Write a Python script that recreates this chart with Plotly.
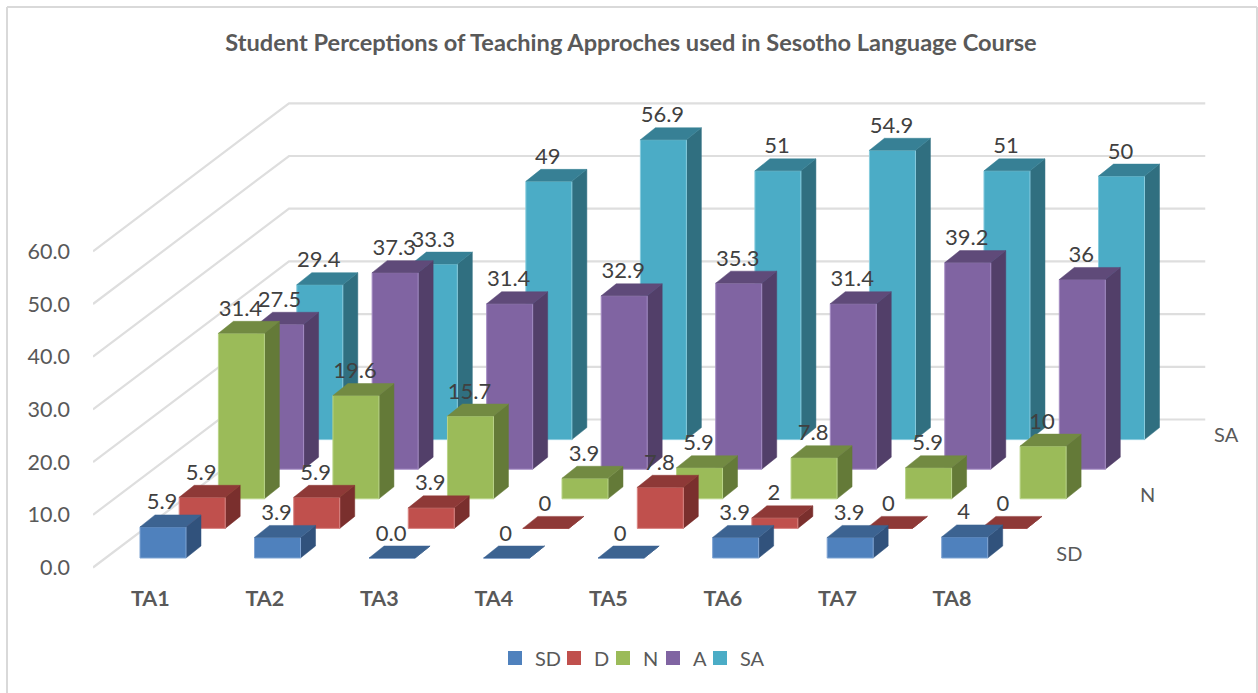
import plotly.graph_objects as go

# ---- data ----
categories = ["TA1", "TA2", "TA3", "TA4", "TA5", "TA6", "TA7", "TA8"]
series_names = ["SD", "D", "N", "A", "SA"]
sd_values = [5.9, 3.9, 0.0, 0, 0, 3.9, 3.9, 4]
d_values = [5.9, 5.9, 3.9, 0, 7.8, 2, 0, 0]
n_values = [31.4, 19.6, 15.7, 3.9, 5.9, 7.8, 5.9, 10]
a_values = [27.5, 37.3, 31.4, 32.9, 35.3, 31.4, 39.2, 36]
sa_values = [29.4, 33.3, 49, 56.9, 51, 54.9, 51, 50]
sd_labels = ["5.9", "3.9", "0.0", "0", "0", "3.9", "3.9", "4"]
d_labels = ["5.9", "5.9", "3.9", "0", "7.8", "2", "0", "0"]
n_labels = ["31.4", "19.6", "15.7", "3.9", "5.9", "7.8", "5.9", "10"]
a_labels = ["27.5", "37.3", "31.4", "32.9", "35.3", "31.4", "39.2", "36"]
sa_labels = ["29.4", "33.3", "49", "56.9", "51", "54.9", "51", "50"]
value_ticks = [0, 10, 20, 30, 40, 50, 60]
depth_labels = ["SD", "", "N", "", "SA"]
title_text = "Student Perceptions of Teaching Approches used in Sesotho Language Course"

all_values = [sd_values, d_values, n_values, a_values, sa_values]
all_labels = [sd_labels, d_labels, n_labels, a_labels, sa_labels]

# ---- styles: front, top, side, edge ----
front_colors = ["#4F81BD", "#C0504D", "#9BBB59", "#8064A2", "#4BACC6"]
top_colors = ["#3C6391", "#8E3937", "#728A42", "#5F4A79", "#378095"]
side_colors = ["#31527C", "#7A2F2D", "#647A38", "#523F69", "#306F80"]
edge_colors = ["#7FA4D3", "#D98583", "#B9D488", "#A58CC4", "#86CBDD"]
TEXT = "#595959"
LABEL = "#404040"
GRID = "#DEDEDE"
FONT = "Lato"

# ---- oblique projection constants (axis units: category / value) ----
PX_CAT = 114.53
PX_VAL = 5.27
ROW_DX = 39.2 / PX_CAT
ROW_DY = 29.6 / PX_VAL
BAR_W = 46 / PX_CAT
BAR_DX = 15 / PX_CAT
BAR_DY = 12 / PX_VAL
BAR_X0 = 47 / PX_CAT
BAR_Y0 = 9.5 / PX_VAL
N_ROWS = len(series_names)
N_CATS = len(categories)

PLOT_L, PLOT_B, PLOT_T = 93, 583, 60
X_RANGE = [0, (1258 - PLOT_L) / PX_CAT]
Y_RANGE = [-(PLOT_B - 567.5) / PX_VAL, (567.5 - PLOT_T) / PX_VAL]
LEGEND_PX = [495, 554, 603, 653, 700]

fig = go.Figure()

# walls: gridlines run along the side wall, then along the back wall
gx, gy = [], []
for v in value_ticks:
    gx += [0, N_ROWS * ROW_DX, N_ROWS * ROW_DX + N_CATS, None]
    gy += [v, v + N_ROWS * ROW_DY, v + N_ROWS * ROW_DY, None]
fig.add_trace(go.Scatter(x=gx, y=gy, mode="lines", line=dict(color=GRID, width=2.2),
                         showlegend=False, hoverinfo="skip", cliponaxis=False))

lx, ly, lt = [], [], []
# bars from the back row to the front row
for j in reversed(range(N_ROWS)):
    fx, fy, tx, ty, sx, sy = [], [], [], [], [], []
    for i, v in enumerate(all_values[j]):
        x0 = i + BAR_X0 + j * ROW_DX
        y0 = BAR_Y0 + j * ROW_DY
        x1, y1 = x0 + BAR_W, y0 + v
        fx += [x0, x1, x1, x0, x0, None]
        fy += [y0, y0, y1, y1, y0, None]
        tx += [x0, x1, x1 + BAR_DX, x0 + BAR_DX, x0, None]
        ty += [y1, y1, y1 + BAR_DY, y1 + BAR_DY, y1, None]
        sx += [x1, x1 + BAR_DX, x1 + BAR_DX, x1, x1, None]
        sy += [y0, y0 + BAR_DY, y1 + BAR_DY, y1, y0, None]
    for px, py, col, edge, w in [(sx, sy, side_colors[j], side_colors[j], 0.5),
                                 (fx, fy, front_colors[j], edge_colors[j], 1),
                                 (tx, ty, top_colors[j], top_colors[j], 0.5)]:
        fig.add_trace(go.Scatter(x=px, y=py, mode="lines", fill="toself", fillcolor=col,
                                 line=dict(color=edge, width=w), showlegend=False,
                                 hoverinfo="skip"))

# data labels
for j in range(N_ROWS):
    for i, v in enumerate(all_values[j]):
        lx.append(i + BAR_X0 + j * ROW_DX + 22 / PX_CAT)
        ly.append(BAR_Y0 + j * ROW_DY + v + BAR_DY + 11 / PX_VAL)
        lt.append(all_labels[j][i])
fig.add_trace(go.Scatter(x=lx, y=ly, text=lt, mode="text", textposition="middle center",
                         textfont=dict(family=FONT, size=22, color=LABEL),
                         showlegend=False, hoverinfo="skip", cliponaxis=False))

# depth axis labels
fig.add_trace(go.Scatter(
    x=[N_CATS + (j + 0.5) * ROW_DX + 40.5 / PX_CAT for j in range(N_ROWS)],
    y=[(j + 0.5) * ROW_DY - 3 / PX_VAL for j in range(N_ROWS)],
    text=depth_labels, mode="text", textposition="middle center",
    textfont=dict(family=FONT, size=20, color=TEXT),
    showlegend=False, hoverinfo="skip", cliponaxis=False))

pw = 1258 - PLOT_L
ph = PLOT_B - PLOT_T

# legend entries: one small legend per series, so each sits where the reference has it
legends = {}
for k, (name, col, lpx) in enumerate(zip(series_names, front_colors, LEGEND_PX)):
    key = "legend" if k == 0 else f"legend{k + 1}"
    fig.add_trace(go.Scatter(x=[None], y=[None], mode="markers", name=name, legend=key,
                             marker=dict(symbol="square", size=14, color=col)))
    legends[key] = dict(orientation="h", x=(lpx - PLOT_L) / pw, xanchor="left",
                        y=(PLOT_B - 658) / ph, yanchor="middle",
                        bgcolor="rgba(0,0,0,0)",
                        font=dict(family=FONT, size=20, color=TEXT),
                        itemclick=False, itemdoubleclick=False)

border = dict(type="line", xref="paper", yref="paper", line=dict(color="#D9D9D9", width=2))
bx0 = (7 - PLOT_L) / pw
bx1 = (1257 - PLOT_L) / pw
by_top = (PLOT_B - 7) / ph
by_bot = (PLOT_B - 693) / ph

fig.update_layout(
    width=1258, height=693,
    margin=dict(l=PLOT_L, r=0, t=PLOT_T, b=693 - PLOT_B, pad=0),
    paper_bgcolor="white", plot_bgcolor="white",
    font=dict(family=FONT, color=TEXT),
    title=dict(text=title_text, x=631 / 1258, xanchor="center", y=1 - 43 / 693, yanchor="middle",
               font=dict(family=FONT, size=23.6, color=TEXT, weight=700)),
    xaxis=dict(range=X_RANGE, tickmode="array",
               tickvals=[i + 0.5 for i in range(N_CATS)], ticktext=categories,
               showgrid=False, zeroline=False, showline=False, ticks="",
               tickfont=dict(family=FONT, size=21.5, color=TEXT, weight=700)),
    yaxis=dict(range=Y_RANGE, tickmode="array", tickvals=value_ticks,
               ticktext=[f"{v:.1f}" for v in value_ticks],
               showgrid=False, zeroline=False, showline=False, ticks="",
               ticklabelstandoff=22,
               tickfont=dict(family=FONT, size=21.5, color=TEXT)),
    shapes=[dict(border, x0=bx0, x1=bx1, y0=by_top, y1=by_top),
            dict(border, x0=bx0, x1=bx0, y0=by_top, y1=by_bot),
            dict(border, x0=bx1, x1=bx1, y0=by_top, y1=by_bot)],
    **legends,
)

fig.write_html("out.html", config=dict(displayModeBar=False),
               post_script="document.body.style.margin='0';document.body.style.overflow='hidden';")
